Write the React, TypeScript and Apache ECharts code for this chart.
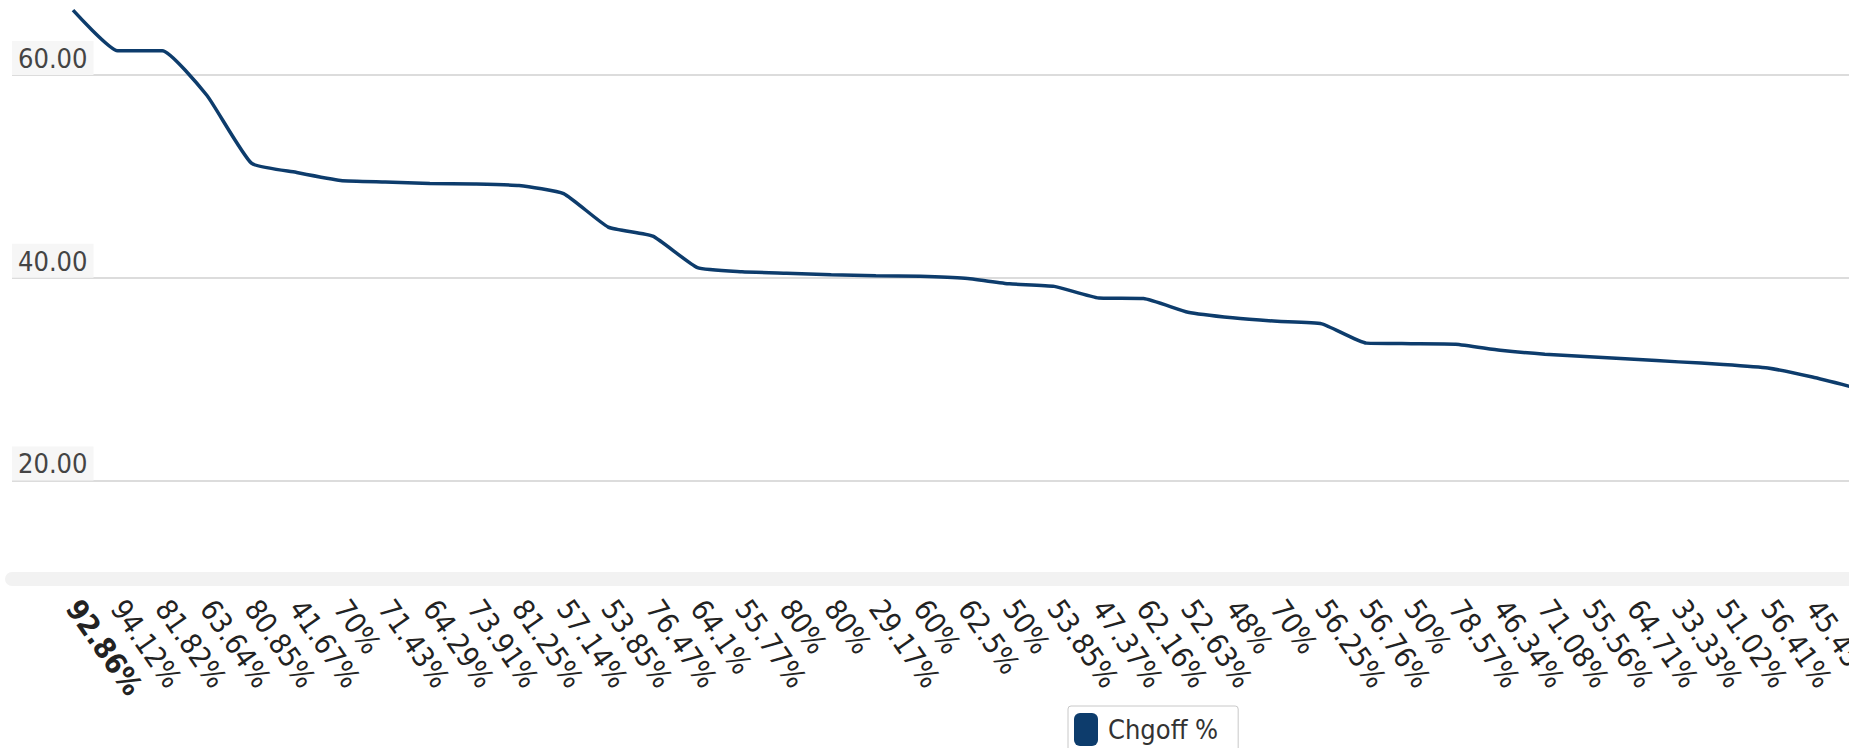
import React, { useEffect, useRef } from "react";
import * as echarts from "echarts";

// Category labels along the x axis (the 41st point lies just past the right edge)
const categories: string[] = [
  "92.86%", "94.12%", "81.82%", "63.64%", "80.85%", "41.67%", "70%", "71.43%",
  "64.29%", "73.91%", "81.25%", "57.14%", "53.85%", "76.47%", "64.1%", "55.77%",
  "80%", "80%", "29.17%", "60%", "62.5%", "50%", "53.85%", "47.37%",
  "62.16%", "52.63%", "48%", "70%", "56.25%", "56.76%", "50%", "78.57%",
  "46.34%", "71.08%", "55.56%", "64.71%", "33.33%", "51.02%", "56.41%", "45.45%",
  "",
];

// Chgoff % series values
const chgoffValues: number[] = [
  66.4, 62.4, 62.4, 58.0, 51.3, 50.4, 49.6, 49.45, 49.3, 49.25,
  49.1, 48.3, 45.0, 44.1, 41.0, 40.6, 40.45, 40.3, 40.2, 40.15,
  39.95, 39.4, 39.15, 38.0, 37.95, 36.6, 36.05, 35.7, 35.45, 33.55,
  33.5, 33.45, 32.85, 32.45, 32.2, 31.95, 31.7, 31.45, 31.1, 30.2,
  29.1,
];

// Y axis tick labels
const yTickValues: number[] = [20, 40, 60];

const seriesName = "Chgoff %";

export default function App() {
  const ref = useRef<HTMLDivElement>(null);

  useEffect(() => {
    if (!ref.current) return;
    const chart = echarts.init(ref.current, null, { renderer: "svg" });
    const font =
      "'Liberation Sans Narrow', 'Arial Narrow', 'DejaVu Sans Condensed', sans-serif";
    const xIdx = categories.map((_, i) => i);
    const lineColor = "#0d3c6c";

    chart.setOption({
      animation: false,
      backgroundColor: "#ffffff",
      grid: {
        left: 12,
        right: 0,
        top: 0,
        bottom: 169,
        containLabel: false,
        outerBoundsMode: "none",
      },
      xAxis: {
        type: "value",
        min: -1.368,
        max: 39.82,
        splitLine: { show: false },
        axisTick: { show: false, customValues: xIdx },
        axisLine: {
          show: true,
          onZero: false,
          lineStyle: { color: "#f2f2f2", width: 14 },
        },
        axisLabel: {
          customValues: xIdx,
          rotate: -55,
          margin: 24,
          fontFamily: font,
          fontSize: 29,
          color: "#222",
          formatter: (v: number) => {
            const i = Math.round(v);
            const t = categories[i] ?? "";
            return i === 0 ? `{b|${t}}` : t;
          },
          rich: {
            b: { fontWeight: "bold", fontFamily: font, fontSize: 29, color: "#222" },
          },
        },
      },
      yAxis: {
        type: "value",
        min: 10.28,
        max: 67.4,
        splitNumber: 3,
        axisLine: { show: false },
        axisTick: { show: false, customValues: yTickValues },
        splitLine: {
          show: true,
          lineStyle: { color: "#dcdcdc", width: 2 },
        },
        axisLabel: {
          customValues: yTickValues,
          inside: true,
          margin: 0,
          verticalAlign: "bottom",
          formatter: (v: number) => v.toFixed(2),
          backgroundColor: "#f6f6f6",
          padding: [4, 6, 3, 6],
          color: "#444",
          fontSize: 27,
          lineHeight: 27,
          fontFamily: font,
        },
      },
      legend: {
        data: [seriesName],
        left: 1068,
        top: 706,
        icon: "roundRect",
        itemWidth: 24,
        itemHeight: 33,
        borderColor: "#c8c8c8",
        borderWidth: 1,
        borderRadius: 3,
        padding: [7, 20, 7, 6],
        backgroundColor: "#ffffff",
        textStyle: {
          fontFamily: font,
          fontSize: 27,
          color: "#333",
          padding: [0, 0, 0, 5],
        },
      },
      series: [
        {
          type: "line",
          name: seriesName,
          data: chgoffValues.map((v, i) => [i, v]),
          showSymbol: false,
          smooth: 0.15,
          clip: true,
          lineStyle: { color: lineColor, width: 3.5 },
          itemStyle: { color: lineColor },
        },
      ],
    });

    return () => chart.dispose();
  }, []);

  return (
    <div
      ref={ref}
      style={{ position: "absolute", left: 0, top: 0, width: 1849, height: 748 }}
    />
  );
}
